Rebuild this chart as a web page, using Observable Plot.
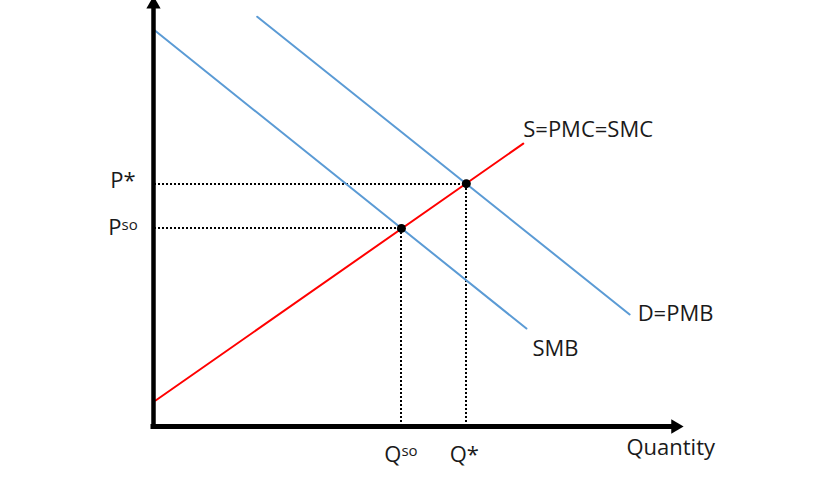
<!DOCTYPE html>
<html><head><meta charset="utf-8">
<script src="https://cdn.jsdelivr.net/npm/d3@7"></script>
<script src="https://cdn.jsdelivr.net/npm/@observablehq/plot@0.6"></script>
<style>body{margin:0;background:#fff} svg{display:block}</style>
</head><body><div id="chart"></div>
<script>
// Curve endpoints (schematic units)
const supplyX = [0.04, 6.95];
const supplyY = [0.61, 6.64];
const smbX = [0.02, 7.01];
const smbY = [9.30, 2.30];
const demandX = [1.95, 8.95];
const demandY = [9.62, 2.63];
// Equilibria: social optimum, market
const eqNames = ["so", "*"];
const eqQ = [4.66, 5.88];
const eqP = [4.65, 5.70];
// Axis extents
const axisEndX = [9.81];
const axisEndY = [9.91];
const curveLabels = ["S=PMC=SMC", "D=PMB", "SMB"];
const axisLabel = "Quantity";

const pts = (xs, ys) => xs.map((x, i) => ({x, y: ys[i]}));
const supply = pts(supplyX, supplyY);
const smb = pts(smbX, smbY);
const demand = pts(demandX, demandY);
const eq = eqQ.map((q, i) => ({q, p: eqP[i], name: eqNames[i]}));

const BLUE = "#5B9BD5", RED = "#FF0000", INK = "#1a1a1a";
const F = "Open Sans";
const txt = {fontFamily: F, fontSize: 22, fill: INK, lineAnchor: "bottom"};
const dotted = {stroke: "#000", strokeWidth: 2, strokeDasharray: "2,2", shapeRendering: "crispEdges"};

const chart = Plot.plot({
  width: 830, height: 486,
  marginLeft: 153, marginRight: 145, marginTop: 0, marginBottom: 60,
  x: {domain: [0, 10], axis: null},
  y: {domain: [0, 10], axis: null},
  style: {background: "#fff", overflow: "visible"},
  marks: [
    Plot.link(eq, {x1: 0, x2: "q", y1: "p", y2: "p", ...dotted}),
    Plot.link(eq, {x1: "q", x2: "q", y1: "p", y2: 0, ...dotted}),
    Plot.line(smb, {x: "x", y: "y", stroke: BLUE, strokeWidth: 2}),
    Plot.line(demand, {x: "x", y: "y", stroke: BLUE, strokeWidth: 2}),
    Plot.line(supply, {x: "x", y: "y", stroke: RED, strokeWidth: 2}),
    Plot.dot(eq, {x: "q", y: "p", r: 4.5, fill: "#000", stroke: null}),
    // axes
    Plot.ruleX([0], {y1: 0, y2: axisEndY[0], stroke: "#000", strokeWidth: 4.5, strokeLinecap: "square"}),
    Plot.ruleY([0], {x1: 0, x2: axisEndX[0], stroke: "#000", strokeWidth: 5, strokeLinecap: "square"}),
    Plot.dot([0], {x: 0, y: axisEndY[0], symbol: "triangle", r: 5.3, fill: "#000", stroke: null}),
    Plot.dot([0], {x: axisEndX[0], y: 0, symbol: "triangle", r: 5.3, fill: "#000", stroke: null, rotate: 90}),
    // curve labels
    Plot.text([curveLabels[0]], {x: supplyX[1], y: supplyY[1], text: d => d, textAnchor: "start", dx: 0, dy: -7, ...txt}),
    Plot.text([curveLabels[1]], {x: demandX[1], y: demandY[1], text: d => d, textAnchor: "start", dx: 8, dy: 7, ...txt}),
    Plot.text([curveLabels[2]], {x: smbX[1], y: smbY[1], text: d => d, textAnchor: "start", dx: 6, dy: 27, ...txt}),
    Plot.text([axisLabel], {x: 8.89, y: 0, text: d => d, textAnchor: "start", dy: 28, ...txt}),
    // price labels
    Plot.text([eq[1]], {x: 0, y: "p", text: d => "P*", textAnchor: "end", dx: -18, dy: 4, ...txt}),
    Plot.text([eq[0]], {x: 0, y: "p", text: d => "P", textAnchor: "end", dx: -32, dy: 7, ...txt}),
    Plot.text([eq[0]], {x: 0, y: "p", text: d => d.name, textAnchor: "start", dx: -32, dy: 2, ...txt, fontSize: 15}),
    // quantity labels
    Plot.text([eq[0]], {x: "q", y: 0, text: d => "Q", textAnchor: "end", dx: 0, dy: 35, ...txt}),
    Plot.text([eq[0]], {x: "q", y: 0, text: d => d.name, textAnchor: "start", dx: 0, dy: 29, ...txt, fontSize: 15}),
    Plot.text([eq[1]], {x: "q", y: 0, text: d => "Q*", textAnchor: "middle", dx: -2, dy: 35, ...txt})
  ]
});
document.getElementById("chart").append(chart);
</script>
</body></html>
